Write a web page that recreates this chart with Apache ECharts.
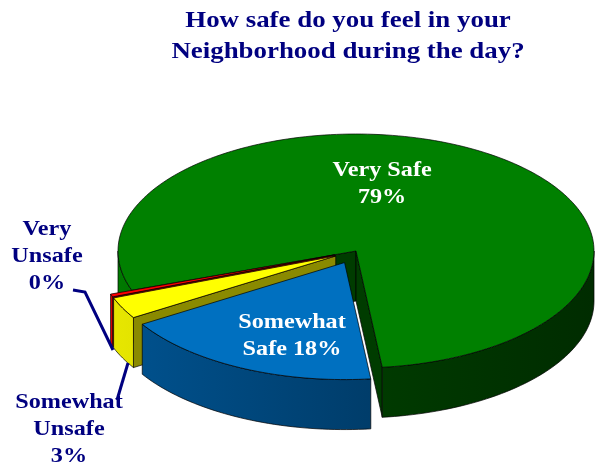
<!DOCTYPE html>
<html>
<head>
<meta charset="utf-8">
<script src="https://cdn.jsdelivr.net/npm/echarts@6/dist/echarts.min.js"></script>
<style>
html, body { margin: 0; padding: 0; background: #fff; }
#main { width: 595px; height: 467px; }
</style>
</head>
<body>
<div id="main"></div>
<script>
// data
var categories = ['Very Safe', 'Somewhat Safe', 'Somewhat Unsafe', 'Very Unsafe'];
var values = [79, 18, 3, 0.4];
var labelText = [['Very Safe', '{p}'], ['Somewhat', 'Safe {p}'], ['Somewhat', 'Unsafe', '{p}'], ['Very', 'Unsafe', '{p}']];

// look
var topColors = ['#008000', '#0070c0', '#ffff00', '#ff0000'];
var sideColors = ['#003c00', '#003f6e', '#8a8a00', '#a00000'];
// outer wall shading, left -> right
var rimColors = [
    [[0, '#007a00'], [0.08, '#006a00'], [0.3, '#004200'], [1, '#002c00']],
    [[0, '#00528f'], [1, '#002a4a']],
    [[0, '#e6e600'], [1, '#a0a000']],
    [[0, '#e00000'], [1, '#900000']]
];
var explode = [0, 0.11, 0.095, 0.095];
var pie = { cx: 356, cy: 251, rx: 238, ry: 117, depth: 50, start: 250.4 };
var labelLayout = [
    { theta: 10.8, r: 0.585, color: '#fff' },
    { theta: 199.4, r: 0.665, color: '#fff' },
    { x: 69, y: 429, color: '#000080', leader: [[117, 400], [128, 363]] },
    { x: 47, y: 256, color: '#000080', leader: [[73, 290], [85, 292], [113, 350]] }
];

var RAD = Math.PI / 180;
var total = values.reduce(function (s, v) { return s + v; }, 0);
var angles = [pie.start];
values.forEach(function (v, i) { angles.push(angles[i] + v / total * 360); });

function rimPoint(c, th, f, z) {
    return [c[0] + pie.rx * f * Math.sin(th * RAD), c[1] - pie.ry * f * Math.cos(th * RAD) + (z || 0)];
}
function arcPts(c, t0, t1, z) {
    var n = Math.max(2, Math.ceil(Math.abs(t1 - t0) / 1.5));
    var pts = [];
    for (var k = 0; k <= n; k++) pts.push(rimPoint(c, t0 + (t1 - t0) * k / n, 1, z));
    return pts;
}
function midOf(i) { return (angles[i] + angles[i + 1]) / 2; }
function centerOf(i) { return rimPoint([pie.cx, pie.cy], midOf(i), explode[i], 0); }

// draw back slices first
var order = values.map(function (v, i) { return i; }).sort(function (a, b) {
    return -Math.cos(midOf(a) * RAD) + Math.cos(midOf(b) * RAD);
});

function renderItem(params, api) {
    var i = params.dataIndex;
    var a0 = angles[i], a1 = angles[i + 1];
    var c = centerOf(i);
    var base = order.indexOf(i) * 10;
    var kids = [];
    function poly(points, fill, z) {
        kids.push({
            type: 'polygon', z2: base + z,
            shape: { points: points },
            style: { fill: fill, stroke: '#000', lineWidth: 0.7, lineJoin: 'round' }
        });
    }
    function wall(t) {
        var p = rimPoint(c, t, 1, 0);
        poly([c, p, [p[0], p[1] + pie.depth], [c[0], c[1] + pie.depth]], sideColors[i], 1);
    }
    if (Math.sin(a0 * RAD) < 0) wall(a0);
    if (Math.sin(a1 * RAD) > 0) wall(a1);

    var rimFill = new echarts.graphic.LinearGradient(pie.cx - pie.rx, 0, pie.cx + pie.rx, 0,
        rimColors[i].map(function (s) { return { offset: s[0], color: s[1] }; }), true);
    for (var k = -1; k <= 2; k++) {
        var lo = Math.max(a0, 90 + 360 * k), hi = Math.min(a1, 270 + 360 * k);
        if (hi > lo) {
            poly(arcPts(c, lo, hi, 0).concat(arcPts(c, hi, lo, pie.depth)), rimFill, 2);
        }
    }
    poly([c].concat(arcPts(c, a0, a1, 0)), topColors[i], 3);

    // label
    var lay = labelLayout[i];
    var pos = lay.leader ? [lay.x, lay.y] : rimPoint(c, lay.theta, lay.r, 0);
    var pct = Math.round(api.value(0) / total * 100) + '%';
    var txt = labelText[i].join('\n').replace('{p}', pct);
    if (lay.leader) {
        kids.push({
            type: 'polyline', z2: 99,
            shape: { points: lay.leader },
            style: { stroke: lay.color, lineWidth: 3, fill: null }
        });
    }
    kids.push({
        type: 'text', z2: 100, x: pos[0], y: pos[1], scaleX: 1.1,
        style: {
            text: txt, x: 0, y: 0, fill: lay.color,
            font: 'bold 22px "Liberation Serif"',
            align: 'center', verticalAlign: 'middle', lineHeight: 27
        }
    });
    return { type: 'group', children: kids };
}

var chart = echarts.init(document.getElementById('main'));
var option = {
    animation: false,
    graphic: [{
        type: 'text', x: 348, y: 36, scaleX: 1.12,
        style: {
            text: 'How safe do you feel in your\nNeighborhood during the day?',
            x: 0, y: 0, fill: '#000080',
            font: 'bold 24px "Liberation Serif"',
            align: 'center', verticalAlign: 'middle', lineHeight: 31
        }
    }],
    series: [{
        type: 'custom',
        coordinateSystem: 'none',
        name: 'Safety',
        renderItem: renderItem,
        data: values.map(function (v, i) { return { name: categories[i], value: v }; })
    }]
};
chart.setOption(option);
</script>
</body>
</html>
